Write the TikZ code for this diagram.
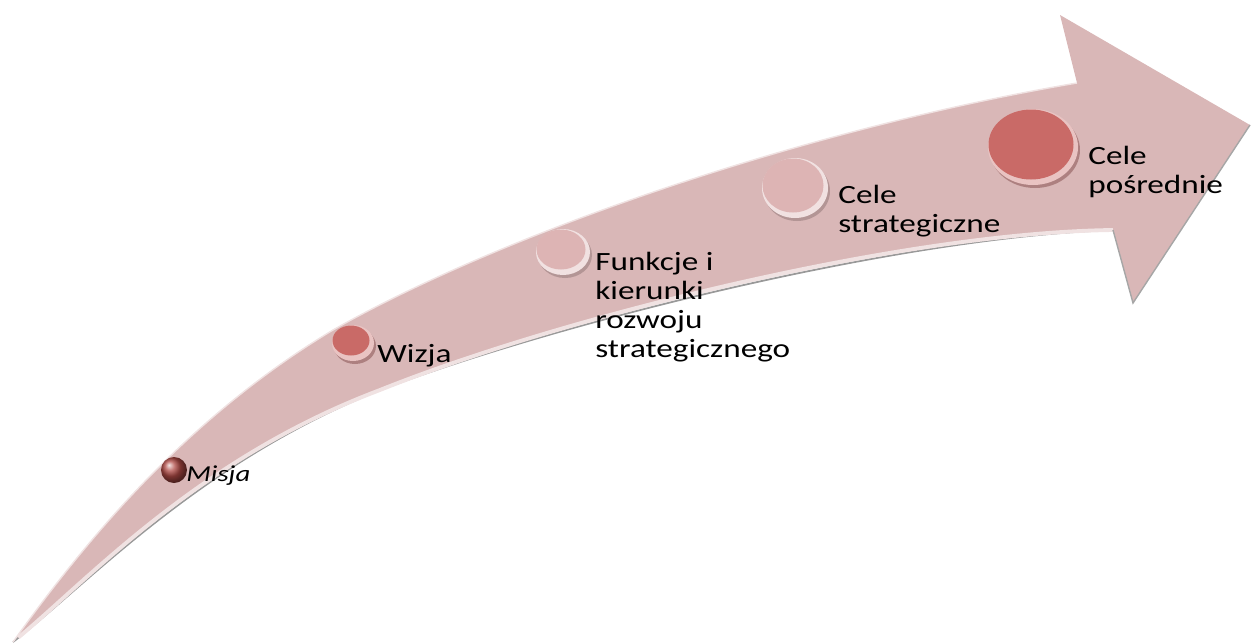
\documentclass[tikz,border=0pt]{standalone}
\usepackage{fontspec}
\setmainfont{Carlito}[FakeStretch=1.26]
\usetikzlibrary{shapes.geometric}
\definecolor{bandpink}{HTML}{D9B7B7}
\definecolor{diskdark}{HTML}{B04A45}
\definecolor{diskred}{HTML}{C96A67}
\definecolor{disklight}{HTML}{DDB4B4}
\begin{document}
\begin{tikzpicture}[x=0.02cm,y=-0.02cm,
	txt/.style={ anchor=base west, inner sep=0pt, align=left, font=\fontsize{15}{16.5}\selectfont },
	face/.style={ ellipse, draw=none, inner sep=0pt }
]
\useasboundingbox (0,0) rectangle (1254,643);

% the bent arrow
\coordinate (tail) at (13,642);
\coordinate (upmid) at (333,330);
\coordinate (lowmid) at (380,390);
\coordinate (shup) at (1077,83);
\coordinate (shlow) at (1113,230);
\coordinate (barbup) at (1060,15);
\coordinate (tip) at (1250,125);
\coordinate (barblow) at (1133,303);
\fill[bandpink] (tail) .. controls (100,520) and (200,410) .. (upmid)
	.. controls (500,235) and (800,130) .. (shup)
	-- (barbup) -- (tip) -- (barblow) -- (shlow)
	.. controls (900,235) and (560,320) .. (lowmid)
	.. controls (200,460) and (90,580) .. (tail) -- cycle;
% bevel of the lower edge
\draw[black!40, line width=1pt, yshift=-1.2pt] (shlow) .. controls (900,235) and (560,320) .. (lowmid)
	.. controls (200,460) and (90,580) .. (tail);
\draw[white!60!bandpink, line width=2.2pt, yshift=1.3pt, shorten >=4pt] (shlow) .. controls (900,235) and (560,320) .. (lowmid)
	.. controls (200,460) and (90,580) .. (tail);
\draw[white!60!bandpink, line width=.8pt] (tail) .. controls (100,520) and (200,410) .. (upmid)
	.. controls (500,235) and (800,130) .. (shup);
\draw[black!35, line width=.8pt] (shlow) -- (barblow) -- (tip);

% discs
\node[circle, ball color=diskdark, minimum size=0.52cm, inner sep=0pt] (misja) at (174,470) {};
\foreach \n/\x/\y/\rx/\ry/\c in {wizja/353/343/21/18/diskred, funkcje/563/252/27/23/disklight, cstrat/795/188/33/30/disklight, cposr/1033/147/45/38/diskred}{
	\fill[\c!60!black, opacity=.45] (\x+2,\y+3) ellipse ({\rx} and {\ry});
	\fill[\c!40!white] (\x,\y) ellipse ({\rx} and {\ry});
	\node[face, fill=\c, minimum width={(2*\rx-5)*0.02cm}, minimum height={(2*\ry-6)*0.02cm}] (\n) at (\x-2,\y-2.5) {};
}

% texts (base = last line)
\node[txt, font=\fontsize{13}{15}\selectfont\itshape] (tmisja) at (186,481) {Misja};
\node[txt] (twizja) at (377,362) {Wizja};
\node[txt] (tfunkcje) at (595,357) {Funkcje i\\kierunki\\rozwoju\\strategicznego};
\node[txt] (tcstrat) at (838,232) {Cele\\strategiczne};
\node[txt] (tcposr) at (1088,193) {Cele\\pośrednie};

\end{tikzpicture}
\end{document}
